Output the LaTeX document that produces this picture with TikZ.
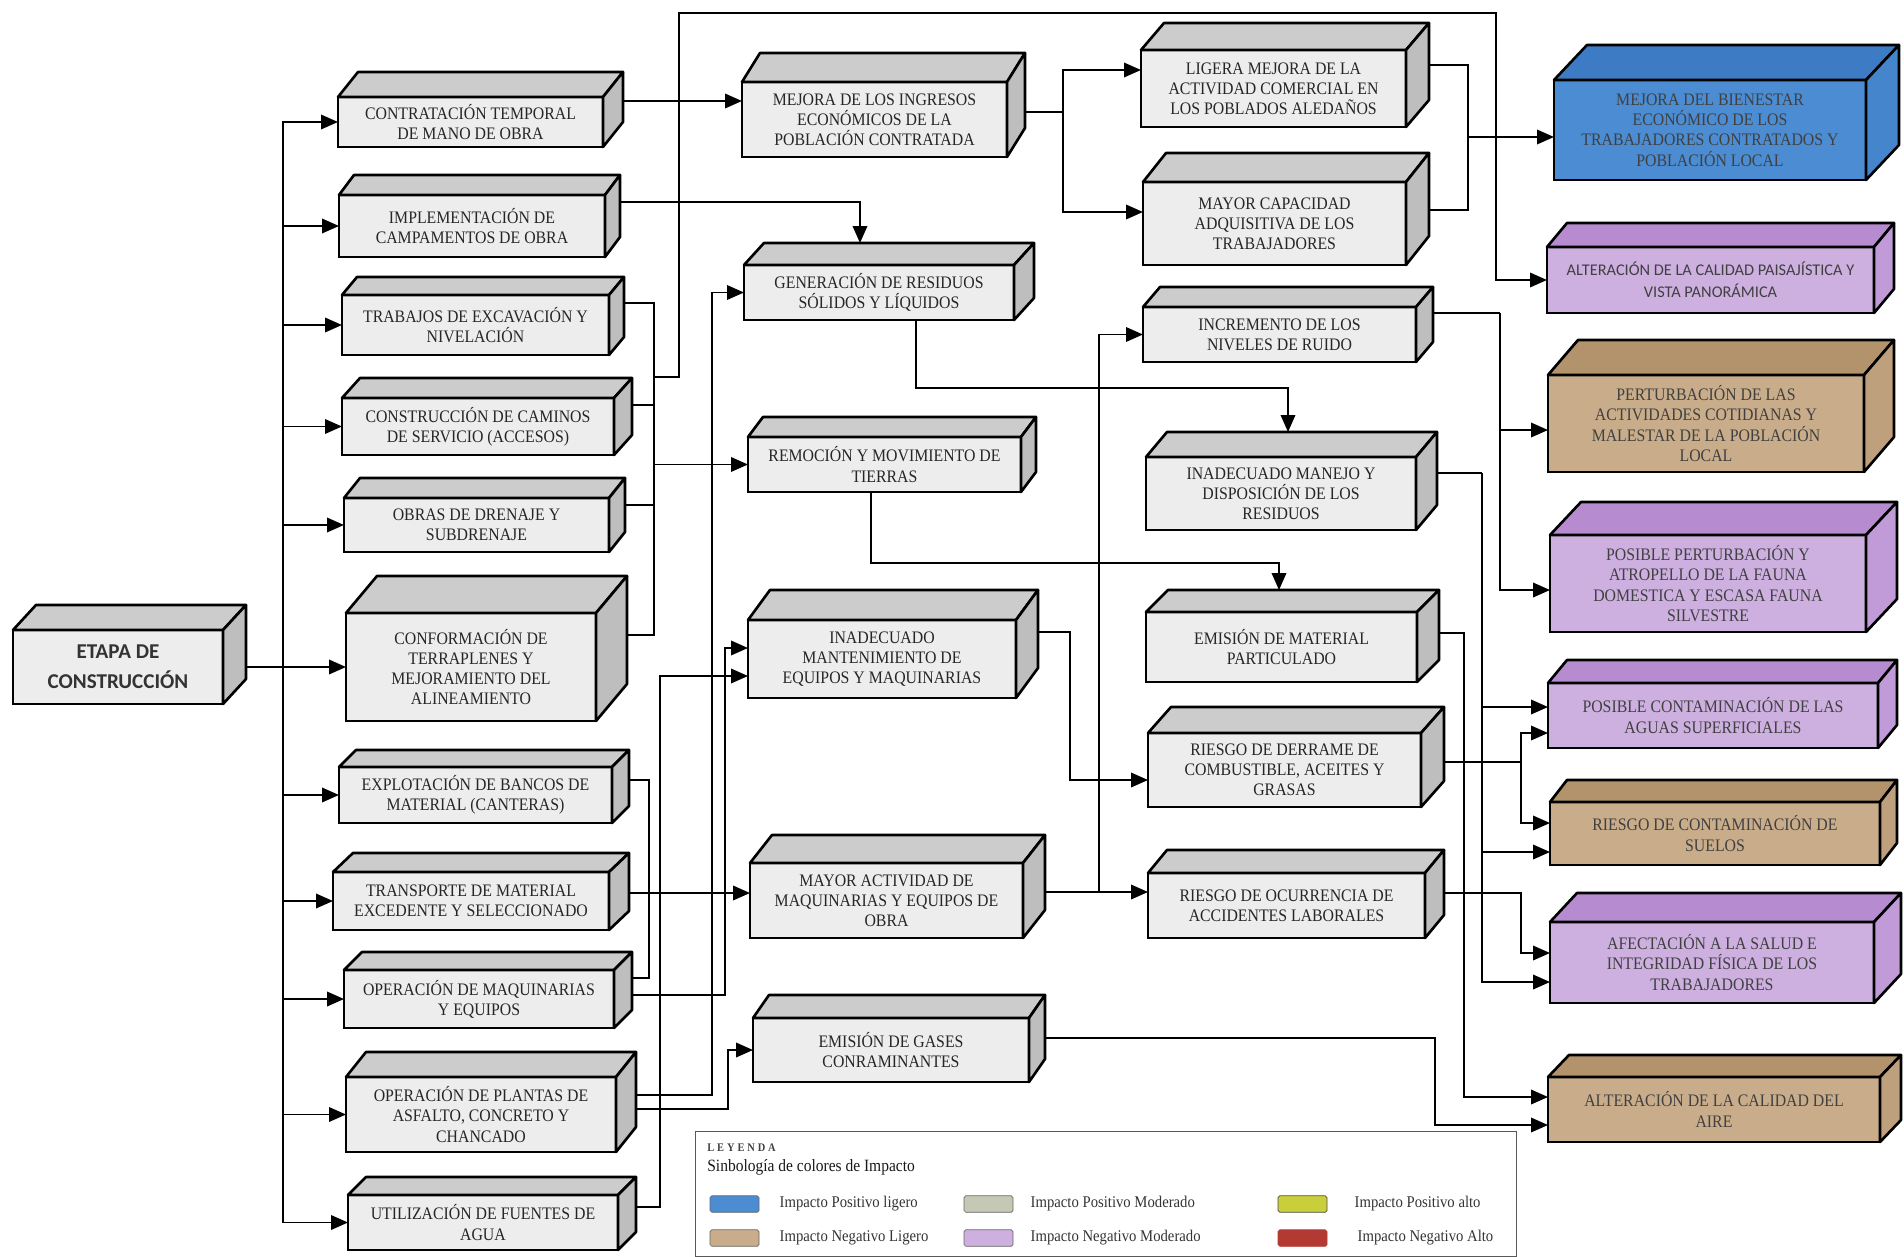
\documentclass[tikz,border=0pt]{standalone}
\usepackage{fontspec}
\setmainfont[FakeStretch=0.9]{Liberation Serif}
\newfontfamily\calib{Carlito}
\usetikzlibrary{arrows.meta,positioning}
\pgfdeclarelayer{fondo}
\pgfsetlayers{fondo,main}
\definecolor{gFr}{HTML}{EDEDED}
\definecolor{gT}{HTML}{CCCCCC}
\definecolor{gL}{HTML}{BEBEBE}
\definecolor{aFr}{HTML}{4B8CD2}
\definecolor{aT}{HTML}{3D7CC5}
\definecolor{aL}{HTML}{4585CC}
\definecolor{lFr}{HTML}{CDB0E0}
\definecolor{lT}{HTML}{B78BD0}
\definecolor{lL}{HTML}{C09BD8}
\definecolor{cFr}{HTML}{C9AD8B}
\definecolor{cT}{HTML}{B3936B}
\definecolor{cL}{HTML}{BFA07C}
\definecolor{pMod}{HTML}{C5C8B5}
\definecolor{pAlto}{HTML}{C8CF3A}
\definecolor{nAlto}{HTML}{B23A33}
\tikzset{
  caja/.style={draw,line width=1.5pt,align=center,inner sep=1pt,outer sep=0pt,
    font=\fontsize{10}{11.5}\selectfont,text=black!85},
  gris/.style={caja,fill=gFr},
  azul/.style={caja,fill=aFr,text=black!75},
  lila/.style={caja,fill=lFr,text=black!75},
  cafe/.style={caja,fill=cFr,text=black!75},
  tam/.style 2 args={minimum width=#1mm,minimum height=#2mm},
  cara/.style={draw,line width=1.5pt,line join=round},
  ln/.style={line width=1.1pt},
  fl/.style={ln,-{Triangle[length=3.4mm,width=2.9mm]}},
  marco/.style={draw=black!65,line width=0.7pt,inner sep=0pt},
  mues/.style={draw=black!60,rounded corners=1pt,minimum width=9.8mm,
    minimum height=3.3mm,inner sep=0pt},
  ley/.style={font=\fontsize{9.3}{10}\selectfont,text=black!80,inner sep=0pt},
}
\begin{document}
\begin{tikzpicture}[x=0.2mm,y=-0.2mm]
  \useasboundingbox (0,0) rectangle (1904,1257);
  \node[gris,tam={42}{14.8},font=\calib\bfseries\fontsize{12}{17}\selectfont,text=black!80] (etapa) at (118,667) {ETAPA DE\\CONSTRUCCIÓN};
  \node[gris,tam={53}{10}] (contr) at (470.5,122) {CONTRATACIÓN TEMPORAL\\DE MANO DE OBRA};
  \node[gris,tam={53.2}{12.4}] (impl) at (472,226) {IMPLEMENTACIÓN DE\\CAMPAMENTOS DE OBRA};
  \node[gris,tam={53.4}{12}] (trab) at (475.5,325) {TRABAJOS DE EXCAVACIÓN Y\\NIVELACIÓN};
  \node[gris,tam={54.4}{11.4}] (camin) at (478,426.5) {CONSTRUCCIÓN DE CAMINOS\\DE SERVICIO (ACCESOS)};
  \node[gris,tam={53}{10.8}] (obras) at (476.5,525) {OBRAS DE DRENAJE Y\\SUBDRENAJE};
  \node[gris,tam={50}{21.6}] (conf) at (471,667) {CONFORMACIÓN DE\\TERRAPLENES Y\\MEJORAMIENTO DEL\\ALINEAMIENTO};
  \node[gris,tam={54.6}{11.2}] (explo) at (475.5,795) {EXPLOTACIÓN DE BANCOS DE\\MATERIAL (CANTERAS)};
  \node[gris,tam={55.2}{11.6}] (transp) at (471,901) {TRANSPORTE DE MATERIAL\\EXCEDENTE Y SELECCIONADO};
  \node[gris,tam={54}{11.6}] (opmaq) at (479,999) {OPERACIÓN DE MAQUINARIAS\\Y EQUIPOS};
  \node[gris,tam={54}{15}] (oppla) at (481,1114.5) {OPERACIÓN DE PLANTAS DE\\ASFALTO, CONCRETO Y\\CHANCADO};
  \node[gris,tam={54}{11}] (util) at (483,1222.5) {UTILIZACIÓN DE FUENTES DE\\AGUA};

  \node[gris,tam={53}{15}] (ingr) at (874.5,119.5) {MEJORA DE LOS INGRESOS\\ECONÓMICOS DE LA\\POBLACIÓN CONTRATADA};
  \node[gris,tam={54}{11}] (gener) at (879,292.5) {GENERACIÓN DE RESIDUOS\\SÓLIDOS Y LÍQUIDOS};
  \node[gris,tam={54.6}{11}] (remoc) at (884.5,464.5) {REMOCIÓN Y MOVIMIENTO DE\\TIERRAS};
  \node[gris,tam={53.6}{15.6}] (mant) at (882,659) {INADECUADO\\MANTENIMIENTO DE\\EQUIPOS Y MAQUINARIAS};
  \node[gris,tam={54.6}{15}] (activ) at (886.5,900.5) {MAYOR ACTIVIDAD DE\\MAQUINARIAS Y EQUIPOS DE\\OBRA};
  \node[gris,tam={55.2}{12.8}] (gases) at (891,1050) {EMISIÓN DE GASES\\CONRAMINANTES};

  \node[gris,tam={53}{15.4}] (ligera) at (1273.5,88.5) {LIGERA MEJORA DE LA\\ACTIVIDAD COMERCIAL EN\\LOS POBLADOS ALEDAÑOS};
  \node[gris,tam={52.6}{16.6}] (capac) at (1274.5,223.5) {MAYOR CAPACIDAD\\ADQUISITIVA DE LOS\\TRABAJADORES};
  \node[gris,tam={54.6}{11}] (ruido) at (1279.5,334.5) {INCREMENTO DE LOS\\NIVELES DE RUIDO};
  \node[gris,tam={54}{14.6}] (manejo) at (1281,493.5) {INADECUADO MANEJO Y\\DISPOSICIÓN DE LOS\\RESIDUOS};
  \node[gris,tam={54.2}{14}] (emimat) at (1281.5,647) {EMISIÓN DE MATERIAL\\PARTICULADO};
  \node[gris,tam={54.6}{14.8}] (derr) at (1284.5,770) {RIESGO DE DERRAME DE\\COMBUSTIBLE, ACEITES Y\\GRASAS};
  \node[gris,tam={55.4}{13}] (accid) at (1286.5,905.5) {RIESGO DE OCURRENCIA DE\\ACCIDENTES LABORALES};

  \node[azul,tam={62.4}{20}] (bien) at (1710,130) {MEJORA DEL BIENESTAR\\ECONÓMICO DE LOS\\TRABAJADORES CONTRATADOS Y\\POBLACIÓN LOCAL};
  \node[lila,tam={65.4}{13.2},font=\calib\fontsize{9.3}{12.5}\selectfont] (paisaj) at (1710.5,280) {ALTERACIÓN DE LA CALIDAD PAISAJÍSTICA Y\\VISTA PANORÁMICA};
  \node[cafe,tam={63.2}{19.4}] (pert) at (1706,423.5) {PERTURBACIÓN DE LAS\\ACTIVIDADES COTIDIANAS Y\\MALESTAR DE LA POBLACIÓN\\LOCAL};
  \node[lila,tam={63.2}{19.4}] (fauna) at (1708,583.5) {POSIBLE PERTURBACIÓN Y\\ATROPELLO DE LA FAUNA\\DOMESTICA Y ESCASA FAUNA\\SILVESTRE};
  \node[lila,tam={66}{13}] (aguas) at (1713,715.5) {POSIBLE CONTAMINACIÓN DE LAS\\AGUAS SUPERFICIALES};
  \node[cafe,tam={66}{12.6}] (suelos) at (1715,833.5) {RIESGO DE CONTAMINACIÓN DE\\SUELOS};
  \node[lila,tam={64.8}{16.2}] (salud) at (1712,962.5) {AFECTACIÓN A LA SALUD E\\INTEGRIDAD FÍSICA DE LOS\\TRABAJADORES};
  \node[cafe,tam={66.4}{13}] (aire) at (1714,1109.5) {ALTERACIÓN DE LA CALIDAD DEL\\AIRE};

  % caras superior y lateral de cada caja
  \foreach \n/\dx/\dy/\ct/\cl in {etapa/23/25/gT/gL,contr/20/25/gT/gL,impl/15/20/gT/gL,
      trab/15/18/gT/gL,camin/18/20/gT/gL,obras/16/20/gT/gL,conf/31/37/gT/gL,
      explo/17/17/gT/gL,transp/20/19/gT/gL,opmaq/18/18/gT/gL,oppla/20/25/gT/gL,
      util/18/18/gT/gL,ingr/18/29/gT/gL,gener/20/22/gT/gL,remoc/15/20/gT/gL,
      mant/22/30/gT/gL,activ/22/28/gT/gL,gases/16/23/gT/gL,ligera/23/27/gT/gL,
      capac/23/29/gT/gL,ruido/17/20/gT/gL,manejo/21/25/gT/gL,emimat/22/22/gT/gL,
      derr/23/26/gT/gL,accid/19/23/gT/gL,bien/33/35/aT/aL,paisaj/20/24/lT/lL,
      pert/30/35/cT/cL,fauna/31/33/lT/lL,aguas/19/23/lT/lL,suelos/17/22/cT/cL,
      salud/27/29/lT/lL,aire/21/22/cT/cL}{
    \draw[cara,fill=\ct] (\n.north west) -- ++(\dx,-\dy) -- ([shift={(\dx,-\dy)}]\n.north east) -- (\n.north east) -- cycle;
    \draw[cara,fill=\cl] (\n.north east) -- ++(\dx,-\dy) -- ([shift={(\dx,-\dy)}]\n.south east) -- (\n.south east) -- cycle;
  }

  \begin{pgfonlayer}{fondo}
    \coordinate (tr) at (283,667);
    \coordinate (col) at (654,377);
    \coordinate (arr) at (679,13);
    \coordinate (arr2) at (1496,13);
    \coordinate (maq) at (649,893);
    \coordinate (agu) at (660,676);
    \coordinate (eqp) at (725,648);
    \coordinate (pla) at (712,292.5);
    \coordinate (gas) at (728,1050);
    \coordinate (ing) at (1063,112);
    \coordinate (act) at (1099,892);
    \coordinate (man) at (1070,780);
    \coordinate (res) at (916,388);
    \coordinate (tie) at (871,563);
    \coordinate (eco) at (1468,137);
    \coordinate (rui) at (1500,313);
    \coordinate (mnj) at (1482,473);
    \coordinate (pol) at (1464,1097);
    \coordinate (der) at (1521,762);
    \coordinate (acc) at (1521,893);
    \coordinate (gss) at (1435,1125);

    \draw[fl] (etapa) -- (conf);
    \foreach \n in {contr,impl,trab,camin,obras,explo,transp,opmaq,oppla,util}
      \draw[fl] (tr) |- (\n);

    \draw[fl] ([shift={(0,-21)}]contr.east) -- ([shift={(0,-21)}]contr.east -| ingr.west);
    \draw[fl] ([shift={(0,-24)}]impl.east) -| ([shift={(-19,-22)}]gener.north);
    \foreach \n/\s in {trab/-22,camin/-21.5,obras/-20,conf/-32}
      \draw[ln] ([shift={(0,\s)}]\n.east) -| (col);
    \draw[fl] (col) |- (remoc);
    \draw[fl] (col) -| (arr) -- (arr2) |- (paisaj);
    \draw[fl] ([shift={(0,-8)}]transp.east) -- ([shift={(0,-8)}]transp.east -| activ.west);
    \draw[ln] ([shift={(0,-15)}]explo.east) -| (maq);
    \draw[ln] ([shift={(0,-21)}]opmaq.east) -| (maq);
    \draw[fl] ([shift={(0,-15.5)}]util.east) -| (agu) -- (agu -| mant.west);
    \draw[fl] ([shift={(0,-4)}]opmaq.east) -| (eqp) -- (eqp -| mant.west);
    \draw[fl] ([shift={(0,-19.5)}]oppla.east) -| (pla) -- (gener);
    \draw[fl] ([shift={(0,-5.5)}]oppla.east) -| (gas) -- (gases);

    \draw[ln] ([shift={(0,-7.5)}]ingr.east) -- (ing);
    \draw[fl] (ing) |- ([shift={(0,-18.5)}]ligera.west);
    \draw[fl] (ing) |- ([shift={(0,-11.5)}]capac.west);
    \draw[fl] ([shift={(0,-8.5)}]activ.east) -- (act) -- (act -| accid.west);
    \draw[fl] (act) |- (ruido);
    \draw[fl] ([shift={(0,-27)}]mant.east) -| (man) -- (man -| derr.west);
    \draw[fl] (gener.south -| res) -- (res) -| ([shift={(7,-25)}]manejo.north);
    \draw[fl] (remoc.south -| tie) -- (tie) -| ([shift={(-2.5,-22)}]emimat.north);

    \draw[ln] ([shift={(0,-23.5)}]ligera.east) -| (eco);
    \draw[ln] ([shift={(0,-13.5)}]capac.east) -| (eco);
    \draw[fl] (eco) -- (eco -| bien.west);
    \draw[ln] ([shift={(0,-21.5)}]ruido.east) -- (rui);
    \draw[fl] (rui) |- ([shift={(0,6.5)}]pert.west);
    \draw[fl] (rui) |- ([shift={(0,6.5)}]fauna.west);
    \draw[ln] ([shift={(0,-20.5)}]manejo.east) -- (mnj);
    \draw[fl] (mnj) |- ([shift={(0,-8.5)}]aguas.west);
    \draw[fl] (mnj) |- ([shift={(0,18.5)}]suelos.west);
    \draw[fl] (mnj) |- ([shift={(0,19.5)}]salud.west);
    \draw[fl] ([shift={(0,-14)}]emimat.east) -| (pol) -- (pol -| aire.west);
    \draw[ln] ([shift={(0,-8)}]derr.east) -- (der);
    \draw[fl] (der) |- ([shift={(0,17.5)}]aguas.west);
    \draw[fl] (der) |- ([shift={(0,-10.5)}]suelos.west);
    \draw[fl] ([shift={(0,-12.5)}]accid.east) -- (acc) |- ([shift={(0,-9.5)}]salud.west);
    \draw[fl] ([shift={(0,-12)}]gases.east) -| (gss) -- (gss -| aire.west);
  \end{pgfonlayer}

  \node[marco,anchor=north west,minimum width=164.2mm,minimum height=25mm] (leyenda) at (695,1131) {};
  \node[anchor=west,inner sep=0pt,font=\fontsize{6.6}{7}\selectfont\bfseries,text=black!75] (tit) at (707,1148) {\addfontfeature{LetterSpace=25}LEYENDA};
  \node[anchor=west,inner sep=0pt,font=\fontsize{9.8}{10}\selectfont,text=black!90] (sub) at (707,1167) {Sinbología de colores de Impacto};
  \node[mues,fill=aFr] (s1) at (734.5,1204) {};
  \node[mues,fill=cFr] (s4) at (734.5,1238) {};
  \node[mues,fill=pMod] (s2) at (988.5,1204) {};
  \node[mues,fill=lFr] (s5) at (988.5,1238) {};
  \node[mues,fill=pAlto,draw=black!70] (s3) at (1302.5,1204) {};
  \node[mues,fill=nAlto,draw=nAlto] (s6) at (1302.5,1238) {};
  \node[ley,right=4mm of s1] {Impacto Positivo ligero};
  \node[ley,right=4mm of s4] {Impacto Negativo Ligero};
  \node[ley,right=3.4mm of s2] {Impacto Positivo Moderado};
  \node[ley,right=3.4mm of s5] {Impacto Negativo Moderado};
  \node[ley,right=5.4mm of s3] {Impacto Positivo alto};
  \node[ley,right=6mm of s6] {Impacto Negativo Alto};
\end{tikzpicture}
\end{document}
